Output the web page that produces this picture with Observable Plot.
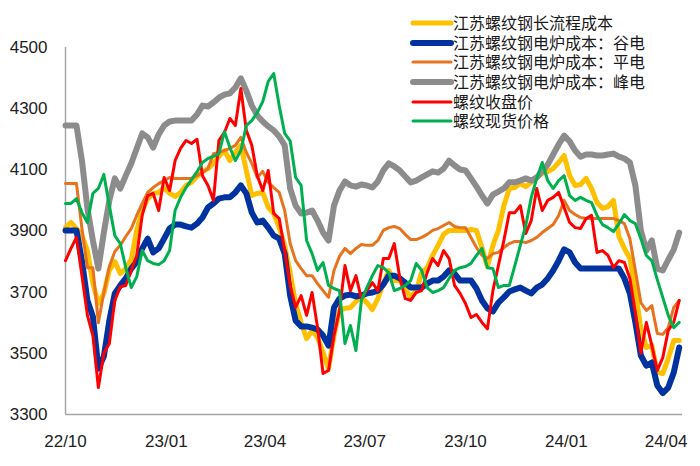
<!DOCTYPE html>
<html><head><meta charset="utf-8">
<script src="https://cdn.jsdelivr.net/npm/d3@7"></script>
<script src="https://cdn.jsdelivr.net/npm/@observablehq/plot@0.6"></script>
<style>body{margin:0;background:#fff} #chart{width:700px;height:466px}</style>
</head><body><div id="chart"></div>
<script>
const dates = [
"2022-10-01","2022-10-06","2022-10-11","2022-10-16","2022-10-21","2022-10-26","2022-10-31","2022-11-05","2022-11-10","2022-11-15",
"2022-11-20","2022-11-25","2022-11-30","2022-12-05","2022-12-10","2022-12-15","2022-12-20","2022-12-25","2022-12-30","2023-01-04",
"2023-01-09","2023-01-14","2023-01-19","2023-01-24","2023-01-29","2023-02-03","2023-02-08","2023-02-13","2023-02-18","2023-02-23",
"2023-02-28","2023-03-05","2023-03-10","2023-03-15","2023-03-20","2023-03-25","2023-03-30","2023-04-04","2023-04-09","2023-04-14",
"2023-04-19","2023-04-24","2023-04-29","2023-05-04","2023-05-09","2023-05-14","2023-05-19","2023-05-24","2023-05-29","2023-06-03",
"2023-06-08","2023-06-13","2023-06-18","2023-06-23","2023-06-28","2023-07-03","2023-07-08","2023-07-13","2023-07-18","2023-07-23",
"2023-07-28","2023-08-02","2023-08-07","2023-08-12","2023-08-17","2023-08-22","2023-08-27","2023-09-01","2023-09-06","2023-09-11",
"2023-09-16","2023-09-21","2023-09-26","2023-10-01","2023-10-06","2023-10-11","2023-10-16","2023-10-21","2023-10-26","2023-10-31",
"2023-11-05","2023-11-10","2023-11-15","2023-11-20","2023-11-25","2023-11-30","2023-12-05","2023-12-10","2023-12-15","2023-12-20",
"2023-12-25","2023-12-30","2024-01-04","2024-01-09","2024-01-14","2024-01-19","2024-01-24","2024-01-29","2024-02-03","2024-02-08",
"2024-02-13","2024-02-18","2024-02-23","2024-02-28","2024-03-04","2024-03-09","2024-03-14","2024-03-19","2024-03-24","2024-03-29",
"2024-04-03","2024-04-08","2024-04-13"];

const longProcessCost = [
3911,3928,3908,3885,3836,3728,3663,3696,3771,3800,
3761,3777,3807,3902,3967,4006,4023,4026,4042,4023,
4013,4026,4049,4059,4078,4094,4104,4121,4144,4163,
4130,4157,4180,4098,4016,4023,4026,3977,3957,3911,
3853,3764,3663,3601,3548,3574,3552,3503,3450,3558,
3640,3647,3650,3669,3683,3666,3643,3679,3728,3771,
3738,3738,3712,3683,3705,3764,3780,3820,3853,3889,
3902,3902,3902,3902,3905,3902,3846,3784,3853,3902,
3983,4039,4042,4055,4045,4059,4075,4088,4094,4104,
4124,4147,4081,4049,4052,4072,4039,3993,3974,3980,
4000,3882,3843,3810,3705,3581,3519,3526,3437,3434,
3483,3542,3542];
const eafValley = [
3902,3902,3902,3803,3673,3620,3450,3490,3607,3696,
3722,3745,3777,3800,3843,3875,3830,3843,3875,3908,
3921,3921,3915,3911,3924,3944,3977,3990,4006,4010,
4010,4026,4049,4023,3960,3928,3934,3911,3885,3875,
3826,3689,3607,3588,3588,3584,3578,3558,3525,3650,
3679,3689,3692,3686,3689,3696,3699,3705,3725,3754,
3754,3745,3731,3715,3715,3715,3728,3738,3738,3751,
3771,3761,3738,3738,3738,3712,3673,3647,3637,3666,
3683,3702,3709,3715,3705,3696,3715,3725,3745,3771,
3803,3840,3830,3797,3777,3777,3777,3777,3777,3777,
3777,3777,3745,3696,3601,3493,3460,3470,3395,3370,
3388,3437,3519];
const eafFlat = [
4055,4055,4055,3908,3780,3780,3600,3699,3784,3833,
3853,3882,3908,3951,3990,4026,4042,4055,4065,4075,
4072,4072,4072,4072,4081,4091,4104,4153,4157,4163,
4170,4180,4206,4157,4121,4075,4095,4059,4042,4026,
3967,3859,3803,3777,3754,3754,3728,3705,3683,3771,
3817,3843,3826,3843,3856,3853,3853,3869,3902,3911,
3915,3908,3889,3872,3872,3879,3889,3902,3908,3918,
3928,3915,3911,3911,3879,3846,3820,3810,3826,3830,
3846,3859,3866,3866,3862,3869,3879,3895,3908,3921,
3951,4000,3967,3954,3944,3941,3941,3941,3941,3941,
3941,3934,3924,3875,3771,3666,3640,3656,3565,3562,
3584,3650,3673];
const eafPeak = [
4245,4245,4245,4130,3974,3869,3777,3895,4000,4072,
4039,4081,4121,4170,4219,4206,4173,4216,4245,4258,
4261,4261,4261,4261,4281,4310,4307,4320,4336,4346,
4350,4369,4399,4359,4310,4278,4258,4242,4229,4209,
4180,4039,3983,3957,3960,3967,3934,3895,3869,3983,
4032,4062,4049,4045,4052,4049,4042,4062,4098,4121,
4111,4098,4078,4059,4065,4075,4085,4095,4091,4104,
4130,4114,4101,4098,4072,4045,4016,3990,4019,4029,
4039,4059,4059,4065,4072,4065,4075,4095,4117,4150,
4183,4212,4193,4163,4143,4150,4150,4147,4147,4150,
4153,4143,4137,4124,4049,3902,3836,3869,3777,3771,
3806,3839,3895];
const futuresClose = [
3803,3843,3879,3754,3624,3558,3388,3500,3532,3673,
3718,3722,3771,3820,3951,4016,4023,3967,4075,4032,
4130,4170,4196,4186,4200,4081,4049,4000,4196,4222,
4268,4245,4366,4229,4180,4081,4032,4098,3957,3941,
3836,3722,3650,3689,3624,3699,3584,3434,3444,3558,
3640,3787,3705,3754,3679,3705,3731,3705,3810,3810,
3859,3748,3679,3673,3699,3705,3764,3810,3787,3836,
3810,3722,3696,3663,3617,3627,3601,3580,3705,3787,
3869,3960,3960,3983,3892,3934,4039,3967,4000,4010,
4026,3977,3928,3911,3908,3941,3951,3830,3836,3820,
3781,3803,3797,3745,3633,3500,3601,3526,3444,3486,
3575,3601,3673];
const spotPrice = [
3990,3990,4006,3960,3928,4023,4039,4085,3983,3885,
3859,3780,3715,3751,3836,3803,3794,3790,3803,3836,
3967,4010,4042,4068,4094,4124,4137,4144,4153,4225,
4173,4130,4163,4245,4261,4287,4323,4389,4415,4310,
4219,4195,4075,4049,3869,3826,3771,3797,3722,3712,
3705,3532,3591,3509,3673,3715,3754,3787,3780,3764,
3705,3712,3722,3738,3794,3771,3715,3699,3705,3715,
3745,3771,3780,3784,3794,3820,3843,3780,3777,3715,
3722,3722,3787,3853,3918,4010,4072,4124,4065,4039,
4065,4081,4016,4000,4010,4000,3993,3951,3921,3911,
3898,3924,3954,3934,3924,3875,3820,3803,3741,3683,
3624,3584,3601];

const seriesNames = ["江苏螺纹钢长流程成本","江苏螺纹钢电炉成本：谷电","江苏螺纹钢电炉成本：平电","江苏螺纹钢电炉成本：峰电","螺纹收盘价","螺纹现货价格"];
const seriesValues = [longProcessCost, eafValley, eafFlat, eafPeak, futuresClose, spotPrice];
const colors = ["#FFC000","#0033A0","#E8731E","#8C8C8C","#FF0000","#00B050"];
const widths = [5,6,3,6,3,3];
const yTicks = [3300,3500,3700,3900,4100,4300,4500];
const xTicks = ["2022-10-01","2023-01-01","2023-04-01","2023-07-01","2023-10-01","2024-01-01","2024-04-01"];
const xDomain = ["2022-10-01","2024-04-16"];

const parse = d3.utcParse("%Y-%m-%d");
const rows = seriesValues.map((vals, s) => dates.map((d, i) => ({date: parse(d), value: vals[i], series: seriesNames[s]})));

const chart = Plot.plot({
  width: 700, height: 466,
  marginLeft: 65, marginRight: 18, marginTop: 47, marginBottom: 52,
  style: {fontFamily: '"Liberation Sans","Noto Sans CJK SC",sans-serif', fontSize: "17px", color: "#222", background: "#fff"},
  x: {type: "utc", domain: xDomain.map(parse), label: null},
  y: {domain: [3300, 4500], label: null},
  marks: [
    Plot.ruleX([parse(xDomain[0])], {stroke: "#a6a6a6", strokeWidth: 1.5}),
    Plot.ruleY([3300], {stroke: "#a6a6a6", strokeWidth: 1.5}),
    Plot.axisY({ticks: yTicks, tickFormat: d3.format("d"), tickSize: 0, tickPadding: 18, fontSize: 17, fill: "#222", label: null}),
    Plot.axisX({ticks: xTicks.map(parse), tickFormat: d3.utcFormat("%y/%m"), tickSize: 0, tickPadding: 20, fontSize: 17, fill: "#222", label: null}),
    ...rows.map((r, s) => Plot.line(r, {x: "date", y: "value", stroke: colors[s], strokeWidth: widths[s], strokeLinejoin: "round", strokeLinecap: "round"}))
  ]
});

const svg = d3.select(chart);
const lg = svg.append("g").attr("font-family", '"Liberation Sans","Noto Sans CJK SC",sans-serif').attr("font-size", 16).attr("text-anchor", "start");
const rowY = [23, 43, 62, 82, 102, 121];
seriesNames.forEach((name, i) => {
  lg.append("line").attr("x1", 413).attr("x2", 451).attr("y1", rowY[i]).attr("y2", rowY[i])
    .attr("stroke", colors[i]).attr("stroke-width", widths[i]).attr("stroke-linecap", "round");
  lg.append("text").attr("x", 453).attr("y", rowY[i]).attr("dy", "0.35em").attr("fill", "#1a1a1a").attr("text-anchor", "start").text(name);
});
document.getElementById("chart").appendChild(chart);
</script>
</body></html>
